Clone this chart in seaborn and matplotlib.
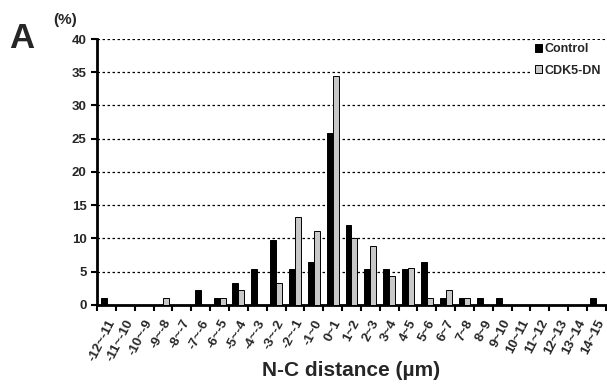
import numpy as np
import pandas as pd
import matplotlib
matplotlib.use("Agg")
import matplotlib.pyplot as plt
import seaborn as sns

# bins of N-C distance (um)
bins = ['-12~-11', '-11~-10', '-10~-9', '-9~-8', '-8~-7', '-7~-6', '-6~-5',
        '-5~-4', '-4~-3', '-3~-2', '-2~-1', '-1~0', '0~1', '1~2', '2~3',
        '3~4', '4~5', '5~6', '6~7', '7~8', '8~9', '9~10', '10~11', '11~12',
        '12~13', '13~14', '14~15']

control = [1.1, 0, 0, 0, 0, 2.2, 1.1, 3.3, 5.4, 9.8, 5.4, 6.5, 25.9, 12.0,
           5.4, 5.4, 5.4, 6.5, 1.1, 1.1, 1.1, 1.1, 0, 0, 0, 0, 1.1]
cdk5_dn = [0, 0, 0, 1.1, 0, 0, 1.1, 2.2, 0, 3.3, 13.3, 11.1, 34.4, 10.0,
           8.9, 4.4, 5.6, 1.1, 2.2, 1.1, 0, 0, 0, 0, 0, 0, 0]

groups = ['Control', 'CDK5-DN']

df = pd.DataFrame({
    'bin': bins * 2,
    'value': control + cdk5_dn,
    'group': [groups[0]] * len(bins) + [groups[1]] * len(bins),
})

sns.set_style("white")
plt.rcParams['font.family'] = ['Liberation Sans', 'DejaVu Sans']
plt.rcParams['font.weight'] = 'bold'

fig = plt.figure(figsize=(6.07, 3.9), dpi=100)
ax = fig.add_axes([0.16, 0.218, 0.838, 0.682])

sns.barplot(data=df, x='bin', y='value', hue='group', order=bins,
            hue_order=groups, palette=['black', '#c8c8c8'],
            edgecolor='black', linewidth=0.7, width=0.63, ax=ax, zorder=3)

ax.set_xlim(-0.5, len(bins) - 0.5)
ax.set_ylim(0, 40)
ax.set_yticks(np.arange(0, 41, 5))
ax.yaxis.grid(True, linestyle=(0, (2, 2)), color='black', linewidth=0.9, zorder=0)
ax.set_axisbelow(True)

# tick marks at bin boundaries, labels at bin centres
ax.set_xticks(np.arange(len(bins) + 1) - 0.5)
ax.set_xticklabels([])
ax.set_xticks(np.arange(len(bins)), minor=True)
ax.set_xticklabels(bins, minor=True, rotation=63, ha='right',
                   rotation_mode='anchor', fontsize=9.5, fontweight='bold')
ax.tick_params(axis='x', which='major', direction='out', length=4, width=1.5,
               bottom=True, color='black')
ax.tick_params(axis='x', which='minor', length=0, pad=9)
ax.tick_params(axis='y', direction='out', length=4, width=1.5, left=True,
               color='black', labelsize=9.5)
for lab in ax.get_yticklabels():
    lab.set_fontweight('bold')

for side in ['top', 'right']:
    ax.spines[side].set_visible(False)
for side in ['left', 'bottom']:
    ax.spines[side].set_linewidth(2)
    ax.spines[side].set_color('black')

ax.set_ylabel('')
ax.set_xlabel('N-C distance (µm)', fontsize=15, fontweight='bold')
ax.xaxis.set_label_coords(0.5, -0.21)

leg = ax.legend(loc='upper right', bbox_to_anchor=(1.0, 1.0), frameon=True,
                facecolor='white', edgecolor='none', framealpha=1,
                fontsize=9, handlelength=0.6, handleheight=0.6,
                handletextpad=0.2, borderpad=0.3, labelspacing=0.75,
                borderaxespad=0.05)
for t in leg.get_texts():
    t.set_fontweight('bold')

fig.text(0.015, 0.9, 'A', fontsize=25, fontweight='bold', va='center')
fig.text(0.087, 0.948, '(%)', fontsize=11, fontweight='bold', va='center', ha='left')

fig.savefig('out.png', dpi=100)
